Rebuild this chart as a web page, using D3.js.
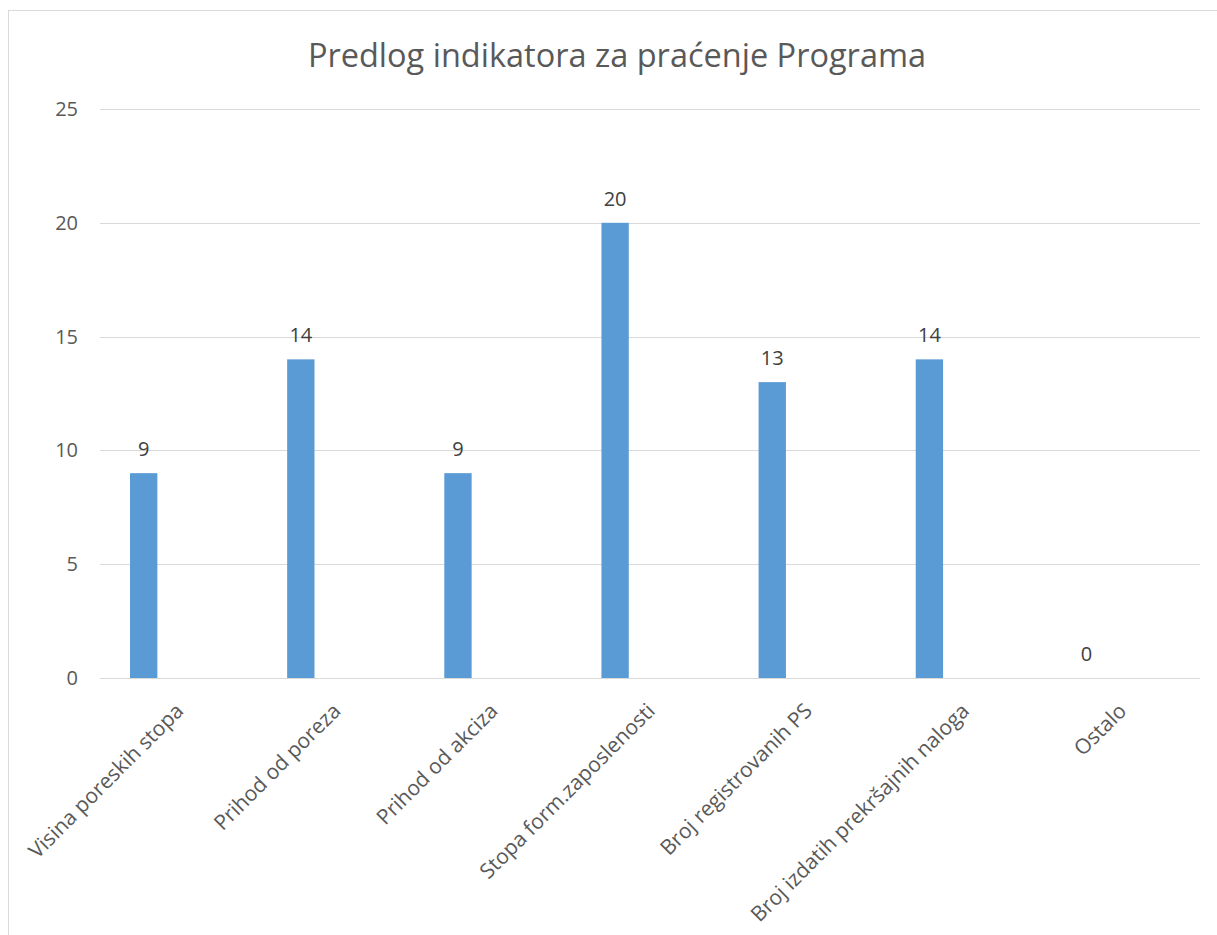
<!DOCTYPE html>
<html>
<head>
<meta charset="utf-8">
<script src="https://cdn.jsdelivr.net/npm/d3@7"></script>
<style>
  html, body { margin: 0; padding: 0; background: #fff; }
  svg { display: block; }
  text { font-family: "Open Sans", "Noto Sans", sans-serif; }
</style>
</head>
<body>
<svg id="chart" width="1217" height="935"></svg>
<script>
const title = "Predlog indikatora za praćenje Programa";
const categories = [
  "Visina poreskih stopa",
  "Prihod od poreza",
  "Prihod od akciza",
  "Stopa form.zaposlenosti",
  "Broj registrovanih PS",
  "Broj izdatih prekršajnih naloga",
  "Ostalo"
];
const values = [9, 14, 9, 20, 13, 14, 0];
const yTicks = [0, 5, 10, 15, 20, 25];

const W = 1217, H = 935;
const margin = { left: 100, right: 17, top: 109, bottom: 257 };
const svg = d3.select("#chart");

// chart border
svg.append("rect")
  .attr("x", 8.5).attr("y", 10.5)
  .attr("width", W + 10).attr("height", H + 10)
  .attr("fill", "#fff").attr("stroke", "#d9d9d9").attr("stroke-width", 1);

const x = d3.scaleBand().domain(categories).range([margin.left, W - margin.right]);
const y = d3.scaleLinear().domain([0, 25]).range([H - margin.bottom, margin.top]);

// gridlines
svg.append("g").selectAll("line").data(yTicks).join("line")
  .attr("x1", margin.left).attr("x2", W - margin.right)
  .attr("y1", d => Math.round(y(d)) + 0.5).attr("y2", d => Math.round(y(d)) + 0.5)
  .attr("stroke", "#d9d9d9").attr("stroke-width", 1);

// y tick labels
const yAxis = d3.axisLeft(y).tickValues(yTicks).tickSize(0).tickPadding(22);
const gy = svg.append("g").attr("transform", `translate(${margin.left},0)`).call(yAxis);
gy.select(".domain").remove();
gy.selectAll("text").attr("font-size", 20).attr("fill", "#595959")
  .attr("font-family", '"Open Sans", sans-serif');

// bars (offset inside the category band)
const bw = x.bandwidth();
const barOff = bw * 0.191, barW = bw * 0.174;
svg.append("g").selectAll("rect").data(values).join("rect")
  .attr("x", (d, i) => x(categories[i]) + barOff)
  .attr("width", barW)
  .attr("y", d => y(d))
  .attr("height", d => y(0) - y(d))
  .attr("fill", "#5b9bd5");

// value labels
svg.append("g").selectAll("text").data(values).join("text")
  .attr("x", (d, i) => x(categories[i]) + barOff + barW / 2)
  .attr("y", d => y(d) - 17)
  .attr("text-anchor", "middle")
  .attr("font-size", 20).attr("fill", "#404040")
  .text(d => d);

// category labels
const xAxis = d3.axisBottom(x).tickSize(0).tickPadding(0);
const gx = svg.append("g").attr("transform", `translate(0,${y(0)})`).call(xAxis);
gx.select(".domain").remove();
gx.selectAll("text")
  .attr("font-size", 21).attr("fill", "#595959")
  .attr("font-family", '"Open Sans", sans-serif')
  .attr("text-anchor", "end")
  .attr("dy", "0.35em")
  .attr("transform", "translate(1,29) rotate(-45)");

// title
svg.append("text")
  .attr("x", 617).attr("y", 67)
  .attr("text-anchor", "middle")
  .attr("font-size", 32.5).attr("fill", "#595959")
  .text(title);
</script>
</body>
</html>
